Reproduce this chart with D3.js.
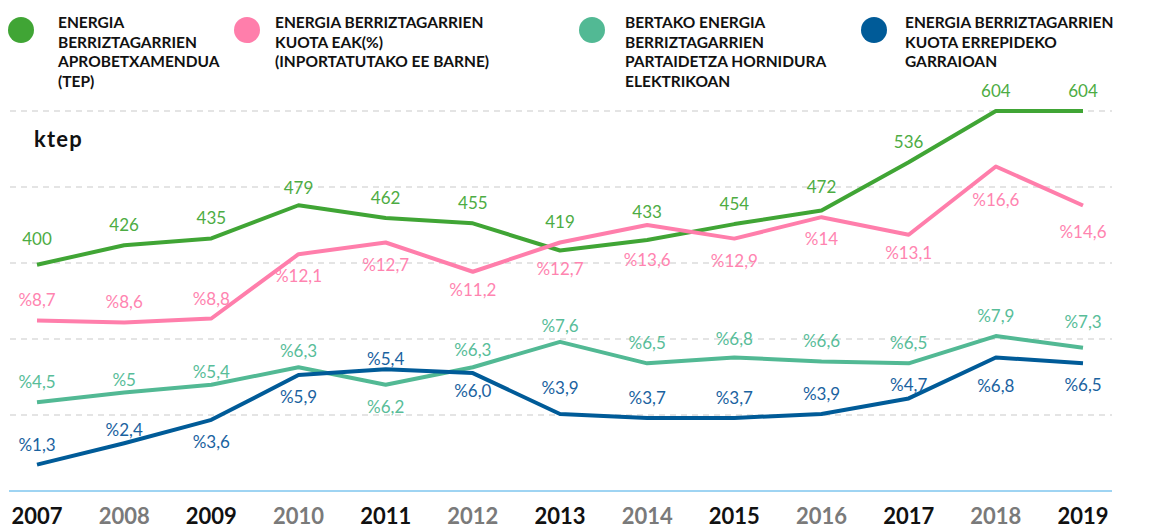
<!DOCTYPE html>
<html>
<head>
<meta charset="utf-8">
<script src="https://cdn.jsdelivr.net/npm/d3@7"></script>
<style>
  body { margin: 0; background: #fff; }
  svg text { font-family: Lato, "Open Sans", sans-serif; }
</style>
</head>
<body>
<div id="chart"></div>
<script>
// years on the x axis
const years = ["2007","2008","2009","2010","2011","2012","2013","2014","2015","2016","2017","2018","2019"];

// ktep series
const greenValues = [400, 426, 435, 479, 462, 455, 419, 433, 454, 472, 536, 604, 604];
const greenLabels = ["400","426","435","479","462","455","419","433","454","472","536","604","604"];

// percentage series
const pinkValues = [8.7, 8.6, 8.8, 12.1, 12.7, 11.2, 12.7, 13.6, 12.9, 14, 13.1, 16.6, 14.6];
const pinkLabels = ["%8,7","%8,6","%8,8","%12,1","%12,7","%11,2","%12,7","%13,6","%12,9","%14","%13,1","%16,6","%14,6"];

const tealValues = [4.5, 5, 5.4, 6.3, 5.4, 6.3, 7.6, 6.5, 6.8, 6.6, 6.5, 7.9, 7.3];
const tealLabels = ["%4,5","%5","%5,4","%6,3","%6,2","%6,3","%7,6","%6,5","%6,8","%6,6","%6,5","%7,9","%7,3"];

const blueValues = [1.3, 2.4, 3.6, 5.9, 6.2, 6.0, 3.9, 3.7, 3.7, 3.9, 4.7, 6.8, 6.5];
const blueLabels = ["%1,3","%2,4","%3,6","%5,9","%5,4","%6,0","%3,9","%3,7","%3,7","%3,9","%4,7","%6,8","%6,5"];

const legendNames = [
  ["ENERGIA", "BERRIZTAGARRIEN", "APROBETXAMENDUA", "(TEP)"],
  ["ENERGIA BERRIZTAGARRIEN", "KUOTA EAK(%)", "(INPORTATUTAKO EE BARNE)"],
  ["BERTAKO ENERGIA", "BERRIZTAGARRIEN", "PARTAIDETZA HORNIDURA", "ELEKTRIKOAN"],
  ["ENERGIA BERRIZTAGARRIEN", "KUOTA ERREPIDEKO", "GARRAIOAN"]
];

const width = 1158, height = 528;
const svg = d3.select("#chart").append("svg")
    .attr("width", width)
    .attr("height", height);

const x = d3.scalePoint().domain(years).range([37, 1083]);
const yKtep = d3.scaleLinear().domain([100, 604]).range([491, 111]);
const yPct = d3.scaleLinear().domain([0, 19.5]).range([490, 110]);
const yGrid = d3.scaleLinear().domain([0, 5]).range([491, 111]);

// dashed gridlines
svg.append("g").selectAll("line")
    .data([1, 2, 3, 4, 5])
    .enter().append("line")
    .attr("x1", 10).attr("x2", 1112)
    .attr("y1", d => yGrid(d)).attr("y2", d => yGrid(d))
    .attr("stroke", "#dcdcdc")
    .attr("stroke-width", 1.5)
    .attr("stroke-dasharray", "6,5");

// baseline
svg.append("line")
    .attr("x1", 9).attr("x2", 1112)
    .attr("y1", yGrid(0)).attr("y2", yGrid(0))
    .attr("stroke", "#3fa9e6")
    .attr("stroke-width", 1);

// year labels
svg.append("g").selectAll("text")
    .data(years)
    .enter().append("text")
    .attr("x", d => x(d))
    .attr("y", 524)
    .attr("text-anchor", "middle")
    .attr("font-size", 22)
    .attr("font-weight", 700)
    .attr("fill", (d, i) => i % 2 === 0 ? "#111" : "#7a7a7a")
    .text(d => d);

// ktep unit
svg.append("text")
    .attr("x", 34).attr("y", 147)
    .attr("font-size", 22)
    .attr("font-weight", 700)
    .attr("letter-spacing", 1.2)
    .attr("fill", "#111")
    .text("ktep");

// above = label sits over the point, below = under it; nudges are hand placements
const series = [
  { values: greenValues, labels: greenLabels, y: yKtep, color: "#40a535", text: "#4dac43",
    below: new Set(), nudge: { "2007": -20, "2010": -11, "2013": -22, "2014": -22, "2016": -18 } },
  { values: pinkValues, labels: pinkLabels, y: yPct, color: "#ff7eab", text: "#ff84b0",
    below: new Set(years.slice(3)),
    nudge: { "2012": 24, "2013": 32, "2014": 41, "2017": 24, "2018": 39, "2019": 33 } },
  { values: tealValues, labels: tealLabels, y: yPct, color: "#52b994", text: "#58bd99",
    below: new Set(["2011"]), nudge: { "2008": -7, "2009": -7, "2010": -10, "2012": -11, "2013": -10, "2015": -12, "2019": -20 } },
  { values: blueValues, labels: blueLabels, y: yPct, color: "#005b98", text: "#1a62a0",
    below: new Set(["2009", "2010", "2012", "2018", "2019"]),
    nudge: { "2008": -7, "2011": -4, "2013": -20, "2017": -7, "2018": 35, "2010": 28, "2012": 24 } }
];

const line = d3.line();

series.forEach(s => {
  const pts = years.map((yr, i) => [x(yr), s.y(s.values[i])]);
  svg.append("path")
      .attr("d", line(pts))
      .attr("fill", "none")
      .attr("stroke", s.color)
      .attr("stroke-width", 4)
      .attr("stroke-linejoin", "round");
});

// value labels drawn after all lines
series.forEach(s => {
  svg.append("g").selectAll("text")
      .data(years)
      .enter().append("text")
      .attr("x", d => x(d))
      .attr("y", (d, i) => {
        const off = s.nudge[d] !== undefined ? s.nudge[d] : (s.below.has(d) ? 28 : -14);
        return s.y(s.values[i]) + off;
      })
      .attr("text-anchor", "middle")
      .attr("font-size", 17)
      .attr("fill", s.text)
      .text((d, i) => s.labels[i]);
});

// legend
const legendX = [21, 247, 592, 874];
const legendTextX = [58, 275, 625, 905];
const legend = svg.append("g");
series.forEach((s, i) => {
  legend.append("circle")
      .attr("cx", legendX[i]).attr("cy", 30)
      .attr("r", 13)
      .attr("fill", s.color);
  const t = legend.append("text")
      .attr("x", legendTextX[i])
      .attr("y", 28)
      .attr("font-size", 15.5)
      .attr("font-weight", 700)
      .attr("fill", "#111");
  legendNames[i].forEach((ln, j) => {
    t.append("tspan")
        .attr("x", legendTextX[i])
        .attr("dy", j === 0 ? 0 : 19.7)
        .text(ln);
  });
});
</script>
</body>
</html>
